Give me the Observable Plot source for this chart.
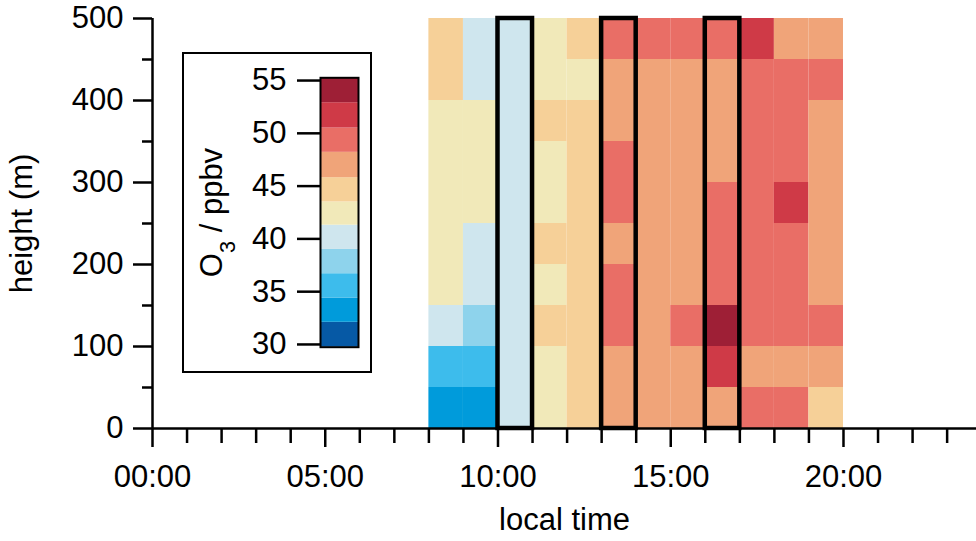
<!DOCTYPE html>
<html>
<head>
<meta charset="utf-8">
<script src="https://cdn.jsdelivr.net/npm/d3@7"></script>
<script src="https://cdn.jsdelivr.net/npm/@observablehq/plot@0.6"></script>
<style>
  body { margin: 0; background: #fff; font-family: "Liberation Sans", Arial, sans-serif; }
  #wrap { position: relative; width: 976px; height: 541px; overflow: hidden; background: #fff; }
  #legend { position: absolute; left: 182px; top: 52px; width: 190px; height: 321px;
            box-sizing: border-box; border: 2px solid #000; background: #fff; }
  #legend svg, #chart svg { display: block; }
</style>
</head>
<body>
<div id="wrap"><div id="chart"></div><div id="legend"></div></div>
<script>
// ---- data ----
const hours = [8, 9, 10, 11, 12, 13, 14, 15, 16, 17, 18, 19];          // start of each 1-h column
const heights = [0, 50, 100, 150, 200, 250, 300, 350, 400, 450];      // bottom of each 50-m layer
// O3 (ppbv), one array per hour, from the lowest layer (0–50 m) to the top (450–500 m)
const o3_08 = [33.3, 35.5, 40.1, 42.4, 42.4, 42.4, 42.4, 42.4, 44.7, 44.7];
const o3_09 = [33.3, 35.5, 37.8, 40.1, 40.1, 42.4, 42.4, 42.4, 40.1, 40.1];
const o3_10 = [40.1, 40.1, 40.1, 40.1, 40.1, 40.1, 40.1, 40.1, 40.1, 40.1];
const o3_11 = [42.4, 42.4, 44.7, 42.4, 44.7, 42.4, 42.4, 44.7, 42.4, 42.4];
const o3_12 = [44.7, 44.7, 44.7, 44.7, 44.7, 44.7, 44.7, 44.7, 42.4, 44.7];
const o3_13 = [47.0, 47.0, 49.3, 49.3, 47.0, 49.3, 49.3, 47.0, 47.0, 49.3];
const o3_14 = [47.0, 47.0, 47.0, 47.0, 47.0, 47.0, 47.0, 47.0, 47.0, 49.3];
const o3_15 = [47.0, 47.0, 49.3, 47.0, 47.0, 47.0, 47.0, 47.0, 47.0, 49.3];
const o3_16 = [47.0, 51.7, 54.0, 49.3, 49.3, 49.3, 47.0, 47.0, 47.0, 49.3];
const o3_17 = [49.3, 47.0, 49.3, 49.3, 49.3, 49.3, 49.3, 49.3, 49.3, 51.7];
const o3_18 = [49.3, 47.0, 49.3, 49.3, 49.3, 51.7, 49.3, 49.3, 49.3, 47.0];
const o3_19 = [44.7, 47.0, 49.3, 47.0, 47.0, 47.0, 47.0, 47.0, 49.3, 47.0];
const o3 = [o3_08, o3_09, o3_10, o3_11, o3_12, o3_13, o3_14, o3_15, o3_16, o3_17, o3_18, o3_19];

const boxedHours = [10, 13, 16];

// colour classes (ppbv)
const levelMin = 29.74, levelMax = 55.26;
const thresholds = [32.1, 34.4, 36.7, 39.0, 41.3, 43.5, 45.8, 48.2, 50.5, 52.9];
const colors = ["#0659a5", "#009bdb", "#3dbcec", "#8ed3ec", "#cfe6ee", "#f1e9b9",
                "#f6d098", "#f0a479", "#e96e66", "#cf3a47", "#9e1f36"];

// ticks
const xMajorTicks = [0, 5, 10, 15, 20];
const xTickLabels = ["00:00", "05:00", "10:00", "15:00", "20:00"];
const xMinorTicks = [1, 2, 3, 4, 6, 7, 8, 9, 11, 12, 13, 14, 16, 17, 18, 19, 21, 22, 23];
const yMajorTicks = [0, 100, 200, 300, 400, 500];
const yMinorTicks = [50, 150, 250, 350, 450];
const legendTicks = [30, 35, 40, 45, 50, 55];

// ---- build ----
const cells = hours.flatMap((h, i) => heights.map((z, j) => ({h, z, v: o3[i][j]})));
const FONT = '"Liberation Sans", Arial, Helvetica, sans-serif';
const FS = 31;
const colorScale = {type: "threshold", domain: thresholds, range: colors};

const chart = Plot.plot({
  width: 976, height: 541,
  marginLeft: 152, marginRight: 0, marginTop: 18, marginBottom: 113,
  style: {fontFamily: FONT, fontSize: FS + "px", background: "white", color: "black"},
  x: {domain: [0, 23.85], axis: null, label: null},
  y: {domain: [0, 500], axis: null, label: null},
  color: colorScale,
  marks: [
    Plot.rect(cells, {x1: "h", x2: d => d.h + 1, y1: "z", y2: d => d.z + 50, fill: "v"}),
    Plot.rect(boxedHours, {x1: d => d, x2: d => d + 1, y1: 0, y2: 500, fill: "none", stroke: "black", strokeWidth: 4.5}),
    Plot.ruleY([0], {strokeWidth: 2.5}),
    Plot.ruleX([0], {strokeWidth: 2.5}),
    Plot.axisX(xMinorTicks, {tickSize: 15, strokeWidth: 2.5, tickFormat: () => "", label: null}),
    Plot.axisX(xMajorTicks, {tickSize: 19, tickPadding: 17, strokeWidth: 2.5, fontSize: FS, label: null,
      tickFormat: d => xTickLabels[xMajorTicks.indexOf(d)]}),
    Plot.axisY(yMinorTicks, {tickSize: 10, strokeWidth: 2.5, tickFormat: () => "", label: null}),
    Plot.axisY(yMajorTicks, {tickSize: 19, tickPadding: 10, strokeWidth: 2.5, fontSize: FS, label: null}),
    Plot.text(["local time"], {text: d => d, frameAnchor: "bottom", lineAnchor: "middle", dy: 92, fontSize: FS}),
    Plot.text(["height (m)"], {text: d => d, frameAnchor: "left", textAnchor: "middle", lineAnchor: "middle",
      rotate: -90, dx: -130, fontSize: FS})
  ]
});
document.getElementById("chart").appendChild(chart);

// ---- colour bar legend ----
const edges = [levelMin, ...thresholds, levelMax];
const bands = colors.map((c, i) => ({lo: edges[i], hi: edges[i + 1]}));
const legend = Plot.plot({
  width: 186, height: 317,
  marginLeft: 136, marginRight: 12, marginTop: 23.3, marginBottom: 24.3,
  style: {fontFamily: FONT, fontSize: FS + "px", background: "white", color: "black"},
  x: {domain: [0, 1], axis: null, label: null},
  y: {domain: [levelMin, levelMax], axis: null, label: null},
  color: colorScale,
  marks: [
    Plot.rect(bands, {x1: 0, x2: 1, y1: "lo", y2: "hi", fill: d => (d.lo + d.hi) / 2}),
    Plot.frame({stroke: "black", strokeWidth: 2}),
    Plot.axisY(legendTicks, {tickSize: 23, tickPadding: 11, strokeWidth: 2.5, fontSize: FS, label: null}),
    Plot.text(["O3 / ppbv"], {text: d => d, frameAnchor: "left", textAnchor: "middle", lineAnchor: "middle",
      rotate: -90, dx: -108, fontSize: FS})
  ]
});
document.getElementById("legend").appendChild(legend);

// subscript for O3
d3.select(legend).selectAll("text").filter(function () { return this.textContent === "O3 / ppbv"; })
  .each(function () {
    const t = d3.select(this);
    t.text(null);
    t.append("tspan").text("O");
    t.append("tspan").attr("baseline-shift", "sub").attr("font-size", "70%").text("3");
    t.append("tspan").text(" / ppbv");
  });
</script>
</body>
</html>
